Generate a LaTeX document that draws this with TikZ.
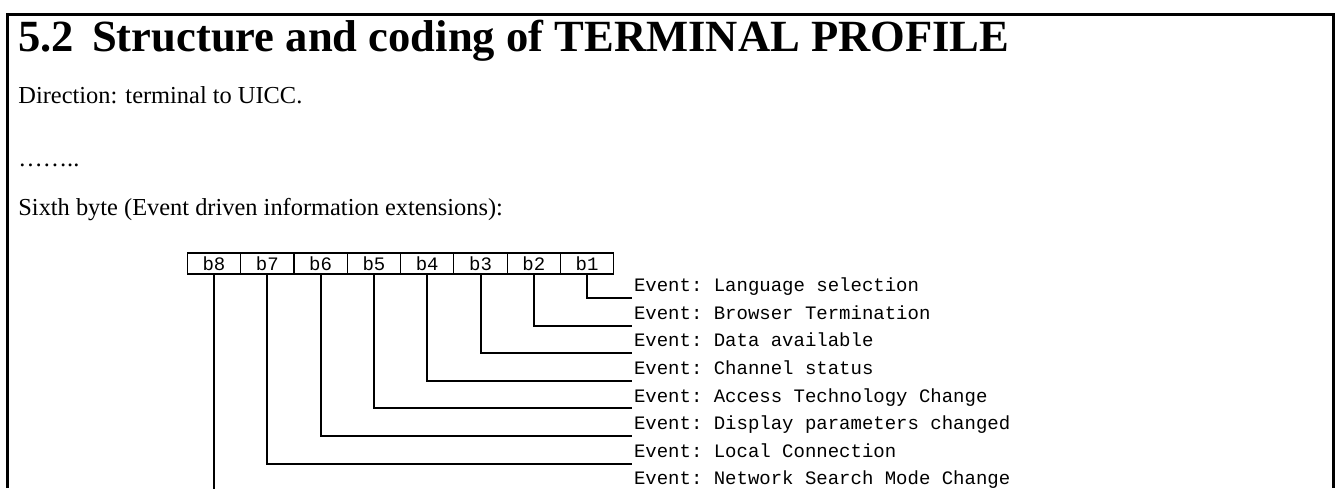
\documentclass[tikz,border=0pt]{standalone}
\usepackage{fontspec}
\setmainfont{Liberation Serif}
\setmonofont{Liberation Mono}
\usetikzlibrary{positioning}
\tikzset{
  bit box/.style={
    rectangle, draw, line width=0.6pt, outer sep=0pt, inner sep=0pt,
    minimum width=26.65pt, minimum height=10.5pt,
    font=\ttfamily\fontsize{9.5}{11}\selectfont
  },
  event label/.style={
    inner sep=0pt, outer sep=0pt, text height=6.4pt, text depth=3.2pt,
    font=\ttfamily\fontsize{9.5}{11}\selectfont
  },
  body text/.style={anchor=base west, inner sep=0pt, font=\fontsize{12.2}{14}\selectfont},
  bit line/.style={line width=1pt},
  frame line/.style={line width=1.5pt}
}

\begin{document}
\begin{tikzpicture}[x=0.5pt, y=-0.5pt, node distance=4.2pt]
    \useasboundingbox (0,0) rectangle (1340,488);
    \draw[frame line] (7,488) -- (7,14) -- (1333,14) -- (1333,488);

    \node[body text, font=\fontsize{22.3}{26}\bfseries\selectfont] (title) at (18,51)
      {5.2\hspace{9pt}Structure and coding of TERMINAL PROFILE};
    \node[body text] (direction) at (18,103) {Direction: terminal to UICC.};
    \node[body text] (dots) at (18,166) {……..};
    \node[body text] (sixth) at (18,215) {Sixth byte (Event driven information extensions):};

    \node[bit box] (b8) at (214,263.5) {b8};
    \node[bit box, right=0pt of b8] (b7) {b7};
    \node[bit box, right=0pt of b7] (b6) {b6};
    \node[bit box, right=0pt of b6] (b5) {b5};
    \node[bit box, right=0pt of b5] (b4) {b4};
    \node[bit box, right=0pt of b4] (b3) {b3};
    \node[bit box, right=0pt of b3] (b2) {b2};
    \node[bit box, right=0pt of b2] (b1) {b1};

    \node[event label, anchor=south west] (ev1) at (634,298) {Event: Language selection};
    \node[event label, below=of ev1.south west, anchor=north west] (ev2) {Event: Browser Termination};
    \node[event label, below=of ev2.south west, anchor=north west] (ev3) {Event: Data available};
    \node[event label, below=of ev3.south west, anchor=north west] (ev4) {Event: Channel status};
    \node[event label, below=of ev4.south west, anchor=north west] (ev5) {Event: Access Technology Change};
    \node[event label, below=of ev5.south west, anchor=north west] (ev6) {Event: Display parameters changed};
    \node[event label, below=of ev6.south west, anchor=north west] (ev7) {Event: Local Connection};
    \node[event label, below=of ev7.south west, anchor=north west] (ev8) {Event: Network Search Mode Change};

    \draw[bit line] (b1.south) |- ([xshift=-1pt]ev1.south west);
    \draw[bit line] (b2.south) |- ([xshift=-1pt]ev2.south west);
    \draw[bit line] (b3.south) |- ([xshift=-1pt]ev3.south west);
    \draw[bit line] (b4.south) |- ([xshift=-1pt]ev4.south west);
    \draw[bit line] (b5.south) |- ([xshift=-1pt]ev5.south west);
    \draw[bit line] (b6.south) |- ([xshift=-1pt]ev6.south west);
    \draw[bit line] (b7.south) |- ([xshift=-1pt]ev7.south west);
    \draw[bit line] (b8.south) |- ([xshift=-1pt]ev8.south west);
  \end{tikzpicture}
\end{document}
